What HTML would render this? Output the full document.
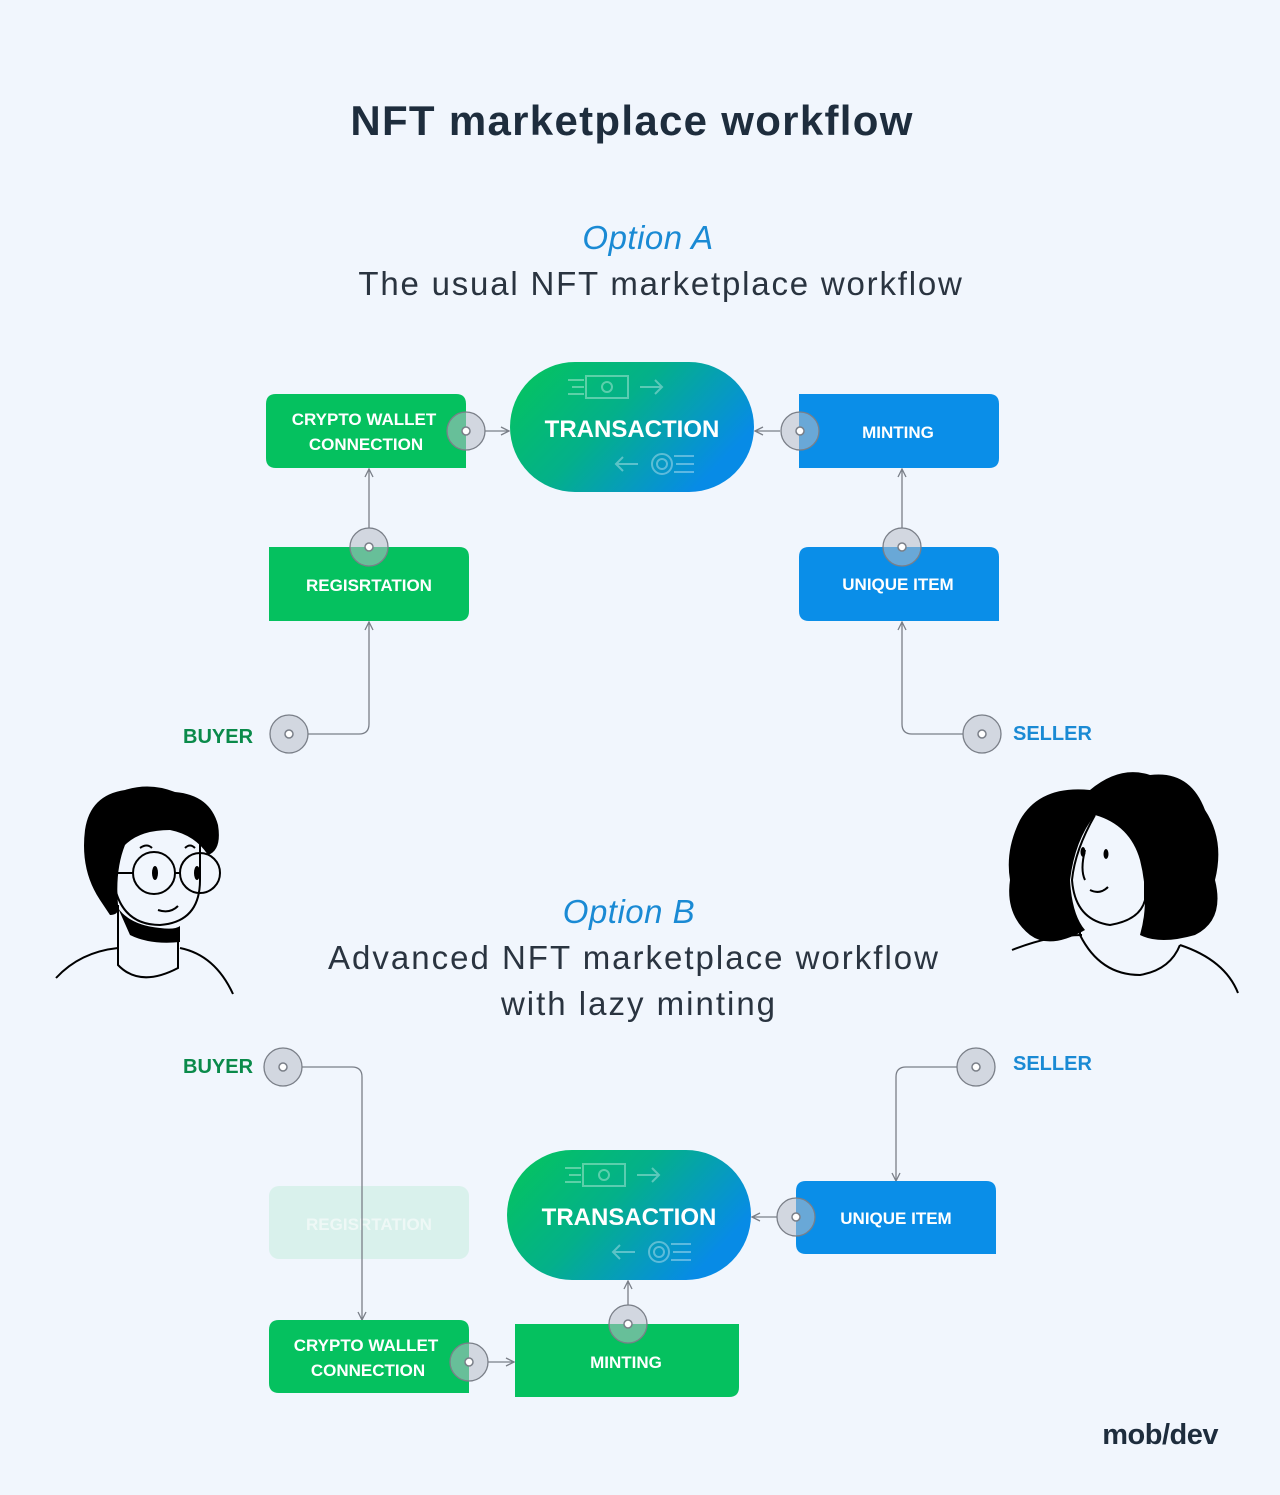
<!DOCTYPE html>
<html><head><meta charset="utf-8"><style>
html,body{margin:0;padding:0;background:#f1f6fd;}
svg{display:block}
text{font-family:"Liberation Sans",sans-serif;}
</style></head><body>
<svg width="1280" height="1495" viewBox="0 0 1280 1495" xmlns="http://www.w3.org/2000/svg">
<defs>
<linearGradient id="g" x1="0" y1="0" x2="1" y2="0.5">
<stop offset="0" stop-color="#05c65a"/><stop offset="0.5" stop-color="#04b08a"/><stop offset="1" stop-color="#078be6"/>
</linearGradient>
<marker id="ar" viewBox="0 0 10 10" refX="9" refY="5" markerWidth="10" markerHeight="10" orient="auto" markerUnits="userSpaceOnUse">
<path d="M1 1 L9 5 L1 9" fill="none" stroke="#7a7f88" stroke-width="1.3"/>
</marker>
</defs>
<rect width="1280" height="1495" fill="#f1f6fd"/>
<text x="632" y="135" text-anchor="middle" font-size="42" font-weight="bold" fill="#1e2d3d" letter-spacing="1.3">NFT marketplace workflow</text>
<text x="648" y="249" text-anchor="middle" font-size="33" font-style="italic" fill="#1a8ad4" letter-spacing="0.5">Option A</text>
<text x="661" y="295" text-anchor="middle" font-size="33" fill="#2a3440" letter-spacing="1.8">The usual NFT marketplace workflow</text>
<text x="629" y="923" text-anchor="middle" font-size="33" font-style="italic" fill="#1a8ad4" letter-spacing="0.5">Option B</text>
<text x="634" y="969" text-anchor="middle" font-size="33" fill="#2a3440" letter-spacing="2">Advanced NFT marketplace workflow</text>
<text x="639" y="1015" text-anchor="middle" font-size="33" fill="#2a3440" letter-spacing="2">with lazy minting</text>

<rect x="269" y="1186" width="200" height="73" rx="10" fill="#d9f1ec"/>
<text x="369" y="1230" text-anchor="middle" font-size="17" font-weight="bold" fill="#eef8f6">REGISRTATION</text>

<g fill="none" stroke="#7a7f88" stroke-width="1.3">
<path d="M485 431 H509" marker-end="url(#ar)"/>
<path d="M780 431 H755" marker-end="url(#ar)"/>
<path d="M369 528 V469" marker-end="url(#ar)"/>
<path d="M902 528 V469" marker-end="url(#ar)"/>
<path d="M308 734 H359 Q369 734 369 724 V622" marker-end="url(#ar)"/>
<path d="M963 734 H912 Q902 734 902 724 V622" marker-end="url(#ar)"/>
<path d="M302 1067 H352 Q362 1067 362 1077 V1320" marker-end="url(#ar)"/>
<path d="M957 1067 H906 Q896 1067 896 1077 V1181" marker-end="url(#ar)"/>
<path d="M488 1362 H514" marker-end="url(#ar)"/>
<path d="M628 1305 V1281" marker-end="url(#ar)"/>
<path d="M777 1217 H752" marker-end="url(#ar)"/>
</g>

<path d="M276 394 H456 Q466 394 466 404 V468 H276 Q266 468 266 458 V404 Q266 394 276 394Z" fill="#05c15f"/>
<text x="364" y="425" text-anchor="middle" font-size="17" font-weight="bold" fill="#fff">CRYPTO WALLET</text>
<text x="366" y="450" text-anchor="middle" font-size="17" font-weight="bold" fill="#fff">CONNECTION</text>
<rect x="510" y="362" width="244" height="130" rx="65" fill="url(#g)"/>
<text x="632" y="437" text-anchor="middle" font-size="24" font-weight="bold" fill="#fff">TRANSACTION</text>
<path d="M799 394 H989 Q999 394 999 404 V458 Q999 468 989 468 H799Z" fill="#0a8ee8"/>
<text x="898" y="438" text-anchor="middle" font-size="17" font-weight="bold" fill="#fff">MINTING</text>
<path d="M269 547 H459 Q469 547 469 557 V611 Q469 621 459 621 H269Z" fill="#05c15f"/>
<text x="369" y="591" text-anchor="middle" font-size="17" font-weight="bold" fill="#fff">REGISRTATION</text>
<path d="M809 547 H989 Q999 547 999 557 V621 H809 Q799 621 799 611 V557 Q799 547 809 547Z" fill="#0a8ee8"/>
<text x="898" y="590" text-anchor="middle" font-size="17" font-weight="bold" fill="#fff">UNIQUE ITEM</text>

<rect x="507" y="1150" width="244" height="130" rx="65" fill="url(#g)"/>
<text x="629" y="1225" text-anchor="middle" font-size="24" font-weight="bold" fill="#fff">TRANSACTION</text>
<path d="M806 1181 H986 Q996 1181 996 1191 V1254 H806 Q796 1254 796 1244 V1191 Q796 1181 806 1181Z" fill="#0a8ee8"/>
<text x="896" y="1224" text-anchor="middle" font-size="17" font-weight="bold" fill="#fff">UNIQUE ITEM</text>
<path d="M279 1320 H459 Q469 1320 469 1330 V1393 H279 Q269 1393 269 1383 V1330 Q269 1320 279 1320Z" fill="#05c15f"/>
<text x="366" y="1351" text-anchor="middle" font-size="17" font-weight="bold" fill="#fff">CRYPTO WALLET</text>
<text x="368" y="1376" text-anchor="middle" font-size="17" font-weight="bold" fill="#fff">CONNECTION</text>
<path d="M515 1324 H739 V1387 Q739 1397 729 1397 H515Z" fill="#05c15f"/>
<text x="626" y="1368" text-anchor="middle" font-size="17" font-weight="bold" fill="#fff">MINTING</text>

<g fill="none" stroke="#ffffff" stroke-opacity="0.35" stroke-width="2">
<rect x="586" y="376" width="42" height="22"/><circle cx="607" cy="387" r="5"/><path d="M640 387 H662 M655 380 L662 387 L655 394 M568 380 H584 M572 387 H584 M568 394 H584"/>
<circle cx="662" cy="464" r="10"/><circle cx="662" cy="464" r="5"/><path d="M638 464 H616 M623 457 L616 464 L623 471 M674 456 H694 M676 464 H694 M674 472 H694"/>
<rect x="583" y="1164" width="42" height="22"/><circle cx="604" cy="1175" r="5"/><path d="M637 1175 H659 M652 1168 L659 1175 L652 1182 M565 1168 H581 M569 1175 H581 M565 1182 H581"/>
<circle cx="659" cy="1252" r="10"/><circle cx="659" cy="1252" r="5"/><path d="M635 1252 H613 M620 1245 L613 1252 L620 1259 M671 1244 H691 M673 1252 H691 M671 1260 H691"/>
</g>

<g fill="#b8bdc8" fill-opacity="0.55" stroke="#7a7f88" stroke-width="1.3">
<circle cx="466" cy="431" r="19"/><circle cx="369" cy="547" r="19"/><circle cx="800" cy="431" r="19"/><circle cx="902" cy="547" r="19"/>
<circle cx="289" cy="734" r="19"/><circle cx="982" cy="734" r="19"/>
<circle cx="283" cy="1067" r="19"/><circle cx="976" cy="1067" r="19"/>
<circle cx="469" cy="1362" r="19"/><circle cx="628" cy="1324" r="19"/><circle cx="796" cy="1217" r="19"/>
</g>
<g fill="#fff" stroke="#7a7f88" stroke-width="1.5">
<circle cx="466" cy="431" r="4"/><circle cx="369" cy="547" r="4"/><circle cx="800" cy="431" r="4"/><circle cx="902" cy="547" r="4"/>
<circle cx="289" cy="734" r="4"/><circle cx="982" cy="734" r="4"/>
<circle cx="283" cy="1067" r="4"/><circle cx="976" cy="1067" r="4"/>
<circle cx="469" cy="1362" r="4"/><circle cx="628" cy="1324" r="4"/><circle cx="796" cy="1217" r="4"/>
</g>

<text x="183" y="743" font-size="20" font-weight="bold" fill="#0a8a4a">BUYER</text>
<text x="1013" y="740" font-size="20" font-weight="bold" fill="#1a8ad4">SELLER</text>
<text x="183" y="1073" font-size="20" font-weight="bold" fill="#0a8a4a">BUYER</text>
<text x="1013" y="1070" font-size="20" font-weight="bold" fill="#1a8ad4">SELLER</text>

<g stroke="#000" stroke-width="2" fill="none">
<path d="M56 978 Q80 952 118 948 M180 948 Q215 955 233 994"/>
<path d="M118 905 V965 Q140 988 178 968 V935"/>
<path d="M112 860 Q112 925 160 925 Q200 922 200 880 L200 830"/>
<circle cx="154" cy="873" r="21"/><circle cx="200" cy="873" r="20"/>
<path d="M133 873 H110 M175 873 H180"/>
<path d="M158 910 Q170 914 178 906"/>
<path d="M140 848 Q147 843 152 848 M185 848 Q190 843 195 848"/>
</g>
<path d="M100 900 Q80 870 85 830 Q90 795 125 790 Q150 782 175 792 Q210 795 218 825 Q222 850 208 855 Q195 835 170 830 Q140 830 125 845 Q115 870 118 905 Q120 915 110 915Z" fill="#000"/>
<path d="M118 908 Q130 925 160 928 Q175 930 180 926 L180 942 Q150 945 130 935Z" fill="#000"/>
<ellipse cx="155" cy="873" rx="3" ry="7" fill="#000"/><ellipse cx="197" cy="873" rx="3" ry="7" fill="#000"/>

<path d="M1090 790 Q1120 765 1150 775 Q1190 770 1205 810 Q1225 840 1215 880 Q1225 920 1195 935 Q1160 945 1140 935 Q1150 900 1140 860 Q1130 825 1095 815 Q1075 840 1070 880 Q1072 915 1085 930 Q1050 950 1030 935 Q1005 915 1010 880 Q1005 850 1020 820 Q1040 785 1090 790Z" fill="#000"/>
<g stroke="#000" stroke-width="2" fill="none">
<path d="M1095 815 Q1075 850 1072 880 Q1075 920 1110 925 Q1140 920 1145 900 L1145 870"/>
<path d="M1080 925 V935 Q1100 975 1140 975 Q1170 970 1180 945"/>
<path d="M1012 950 Q1050 935 1082 935 M1180 945 Q1225 960 1238 993"/>
<path d="M1085 850 Q1080 870 1085 880 M1090 890 Q1100 895 1108 887"/>
</g>
<ellipse cx="1083" cy="852" rx="2.5" ry="5" fill="#000"/><ellipse cx="1106" cy="854" rx="2.5" ry="5" fill="#000"/>

<text x="1218" y="1444" text-anchor="end" font-size="29" font-weight="bold" fill="#1e2d3d" letter-spacing="-0.5">mob/dev</text>
</svg>
</body></html>
